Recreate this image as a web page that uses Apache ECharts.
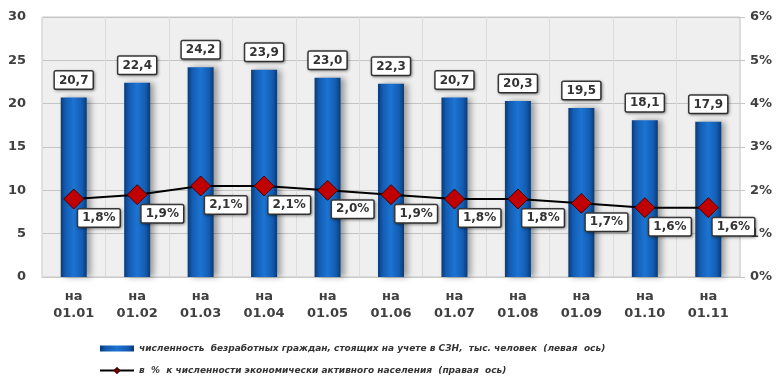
<!DOCTYPE html>
<html>
<head>
<meta charset="utf-8">
<script src="https://cdn.jsdelivr.net/npm/echarts@6/dist/echarts.min.js"></script>
<style>
  html, body { margin: 0; padding: 0; background: #ffffff; }
  #chart { width: 778px; height: 378px; }
</style>
</head>
<body>
<div id="chart"></div>
<script>
// Monthly dates of the report
const categories = ['на\n01.01', 'на\n01.02', 'на\n01.03', 'на\n01.04', 'на\n01.05', 'на\n01.06',
                    'на\n01.07', 'на\n01.08', 'на\n01.09', 'на\n01.10', 'на\n01.11'];
// Registered unemployed, thousand people (left axis)
const unemployed = [20.7, 22.4, 24.2, 23.9, 23.0, 22.3, 20.7, 20.3, 19.5, 18.1, 17.9];
// Share of the economically active population, % (right axis)
const sharePct = [1.8, 1.9, 2.1, 2.1, 2.0, 1.9, 1.8, 1.8, 1.7, 1.6, 1.6];

const leftTicks = { min: 0, max: 30, interval: 5 };
const rightTicks = { min: 0, max: 6, interval: 1 };

const barName = 'численность  безработных граждан, стоящих на учете в СЗН,  тыс. человек  (левая  ось)';
const lineName = 'в  %  к численности экономически активного населения  (правая  ось)';

const comma = v => v.toFixed(1).replace('.', ',');
const font = 'DejaVu Sans, Verdana, sans-serif';

const boxLabel = {
  fontFamily: font,
  fontWeight: 'bold',
  fontSize: 12,
  color: '#333333',
  backgroundColor: '#ffffff',
  borderColor: '#3a3a3a',
  borderWidth: 1.5,
  borderRadius: 1,
  padding: [3, 4, 2, 4],
  shadowColor: 'rgba(0,0,0,0.35)',
  shadowBlur: 3,
  shadowOffsetX: 1,
  shadowOffsetY: 1
};

const chart = echarts.init(document.getElementById('chart'), null, { renderer: 'canvas' });

chart.setOption({
  animation: false,
  backgroundColor: '#ffffff',
  grid: {
    left: 42, right: 38, top: 17, height: 260,
    show: true,
    backgroundColor: '#efefef',
    borderColor: '#c8c8c8',
    borderWidth: 1
  },
  legend: {
    orient: 'vertical',
    left: 99,
    top: 344,
    height: 40,
    itemGap: 13,
    itemWidth: 34,
    itemHeight: 6,
    padding: 0,
    textStyle: {
      fontFamily: font,
      fontStyle: 'italic',
      fontWeight: 'bold',
      fontSize: 9,
      color: '#333333'
    },
    data: [
      { name: barName, icon: 'rect' },
      { name: lineName }
    ]
  },
  xAxis: {
    type: 'category',
    data: categories,
    axisTick: { show: false },
    axisLine: { show: true, lineStyle: { color: '#c8c8c8' } },
    splitLine: { show: true, lineStyle: { color: '#dcdcdc' } },
    axisLabel: {
      margin: 11,
      fontFamily: font,
      fontWeight: 'bold',
      fontSize: 13,
      lineHeight: 17,
      color: '#404040'
    }
  },
  yAxis: [
    {
      type: 'value',
      position: 'left',
      min: leftTicks.min, max: leftTicks.max, interval: leftTicks.interval,
      axisLine: { show: false },
      axisTick: { show: false },
      splitLine: { show: true, lineStyle: { color: '#c4c4c4' } },
      axisLabel: {
        margin: 16,
        fontFamily: font,
        fontWeight: 'bold',
        fontSize: 13,
        color: '#404040'
      }
    },
    {
      type: 'value',
      position: 'right',
      min: rightTicks.min, max: rightTicks.max, interval: rightTicks.interval,
      axisLine: { show: false },
      axisTick: { show: true, length: 5, lineStyle: { color: '#c4c4c4' } },
      splitLine: { show: false },
      axisLabel: {
        margin: 10,
        formatter: '{value}%',
        fontFamily: font,
        fontWeight: 'bold',
        fontSize: 13,
        color: '#404040'
      }
    }
  ],
  series: [
    {
      name: barName,
      type: 'bar',
      yAxisIndex: 0,
      data: unemployed,
      barWidth: 26,
      itemStyle: {
        color: new echarts.graphic.LinearGradient(0, 0, 1, 0, [
          { offset: 0, color: '#093a76' },
          { offset: 0.18, color: '#135cb2' },
          { offset: 0.5, color: '#1c74d2' },
          { offset: 0.82, color: '#135cb2' },
          { offset: 1, color: '#093a76' }
        ]),
        shadowColor: 'rgba(0,0,0,0.35)',
        shadowBlur: 6,
        shadowOffsetX: 4,
        shadowOffsetY: 0
      },
      label: Object.assign({
        show: true,
        position: 'top',
        distance: 9,
        formatter: p => comma(p.value)
      }, boxLabel),
      z: 2
    },
    {
      name: lineName,
      type: 'line',
      yAxisIndex: 1,
      data: sharePct,
      symbol: 'diamond',
      symbolSize: [20, 20],
      lineStyle: { color: '#000000', width: 2 },
      itemStyle: { color: '#c00000', borderColor: '#4a0000', borderWidth: 1 },
      label: Object.assign({
        show: true,
        position: 'right',
        distance: 0,
        offset: [-6, 19],
        formatter: p => comma(p.value) + '%'
      }, boxLabel),
      z: 5
    }
  ]
});
</script>
</body>
</html>
